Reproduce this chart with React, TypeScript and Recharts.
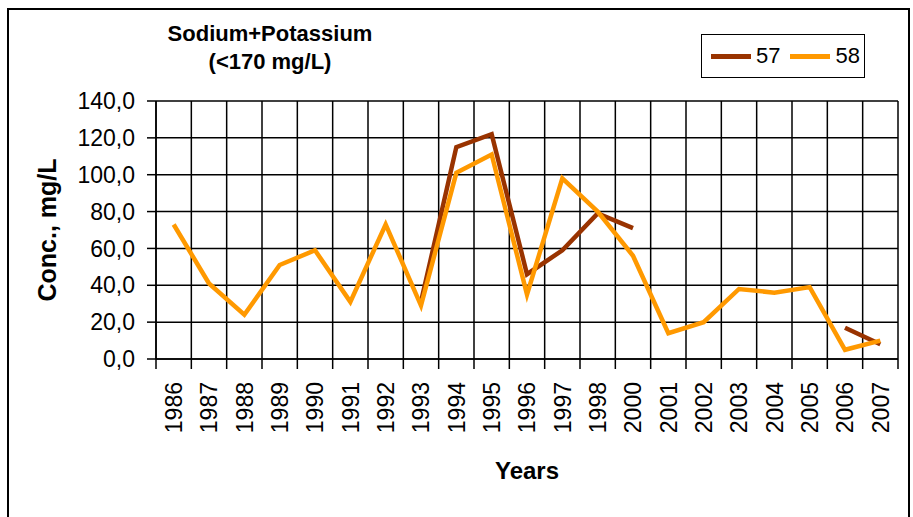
import { LineChart, Line, XAxis, YAxis, CartesianGrid, Legend } from 'recharts';

const FONT = '"Liberation Sans", Arial, sans-serif';

// 1999 is missing in the source sheet
const years = [
  '1986', '1987', '1988', '1989', '1990', '1991', '1992', '1993', '1994', '1995', '1996',
  '1997', '1998', '2000', '2001', '2002', '2003', '2004', '2005', '2006', '2007',
];
const well57 = [
  null, null, null, null, null, null, null, 31, 115, 122, 46,
  59, 79, 71, null, null, null, null, null, 17, 8,
];
const well58 = [
  73, 41, 24, 51, 59, 31, 73, 29, 101, 111, 35,
  98, 80, 56, 14, 20, 38, 36, 39, 5, 10,
];
const yTicks = [0, 20, 40, 60, 80, 100, 120, 140];

const data = years.map((year, i) => ({
  x: i + 0.5,
  year,
  w57: well57[i],
  w58: well58[i],
}));
const boundaries = years.map((_, i) => i).concat(years.length);
const centers = years.map((_, i) => i + 0.5);

const YearTick = (props: any) => {
  const { x, y, payload } = props;
  const label = years[Math.floor(payload.value)];
  return (
    <text
      x={x}
      y={y}
      transform={`rotate(-90, ${x}, ${y})`}
      textAnchor="end"
      dy="0.36em"
      fontSize={23}
      fontFamily={FONT}
      fill="#000"
    >
      {label}
    </text>
  );
};

const LegendBox = (props: any) => {
  const items = props.payload || [];
  return (
    <div
      style={{
        boxSizing: 'border-box',
        width: 164,
        height: 44,
        border: '1.5px solid #000',
        display: 'flex',
        alignItems: 'center',
        paddingLeft: 9,
        fontFamily: FONT,
        fontSize: 22,
        background: '#fff',
      }}
    >
      {items.map((it: any) => (
        <div key={it.value} style={{ display: 'flex', alignItems: 'center', marginRight: 10 }}>
          <span style={{ display: 'inline-block', width: 40, height: 5, background: it.color, marginRight: 5 }} />
          <span>{it.value}</span>
        </div>
      ))}
    </div>
  );
};

export default function App() {
  return (
    <div
      style={{
        position: 'absolute',
        left: 0,
        top: 0,
        width: 913,
        height: 517,
        background: '#fff',
        overflow: 'hidden',
      }}
    >
      <div
        style={{
          position: 'absolute',
          left: 7,
          top: 8,
          width: 903,
          height: 530,
          border: '2px solid #000',
          boxSizing: 'border-box',
        }}
      />
      <div
        style={{
          position: 'absolute',
          left: 120,
          top: 20,
          width: 300,
          textAlign: 'center',
          fontFamily: FONT,
          fontWeight: 'bold',
          fontSize: 22,
          lineHeight: '28px',
        }}
      >
        <div>Sodium+Potassium</div>
        <div>(&lt;170 mg/L)</div>
      </div>
      <LineChart
        width={913}
        height={517}
        data={data}
        margin={{ top: 101, right: 15, left: 0, bottom: 0 }}
      >
        <CartesianGrid stroke="#000" strokeWidth={1.5} xAxisId={0} />
        <XAxis
          xAxisId={0}
          dataKey="x"
          type="number"
          domain={[0, years.length]}
          ticks={boundaries}
          tickFormatter={() => ''}
          tickSize={10}
          height={10}
          axisLine={{ stroke: '#000', strokeWidth: 1.5 }}
          tickLine={{ stroke: '#000', strokeWidth: 1.5 }}
          interval={0}
        />
        <XAxis
          xAxisId="lab"
          dataKey="x"
          type="number"
          domain={[0, years.length]}
          ticks={centers}
          tick={<YearTick />}
          tickSize={0}
          tickMargin={13}
          axisLine={false}
          tickLine={false}
          height={148}
          interval={0}
          label={{
            value: 'Years',
            position: 'insideBottom',
            offset: 38,
            style: { fontFamily: FONT, fontSize: 24, fontWeight: 'bold', fill: '#000' },
          }}
        />
        <YAxis
          domain={[0, 140]}
          ticks={yTicks}
          width={156}
          tickSize={9}
          tickMargin={12}
          tickFormatter={(v: number) => v.toFixed(1).replace('.', ',')}
          tick={{ fill: '#000', fontSize: 23, fontFamily: FONT }}
          axisLine={{ stroke: '#000', strokeWidth: 1.5 }}
          tickLine={{ stroke: '#000', strokeWidth: 1.5 }}
          interval={0}
          label={{
            value: 'Conc., mg/L',
            angle: -90,
            position: 'insideLeft',
            offset: 47,
            style: { textAnchor: 'middle', fontFamily: FONT, fontSize: 25, fontWeight: 'bold', fill: '#000' },
          }}
        />
        <Legend
          layout="vertical"
          align="center"
          verticalAlign="middle"
          content={<LegendBox />}
          wrapperStyle={{ position: 'absolute', left: 701, top: 34, width: 164, height: 44 }}
        />
        <Line
          xAxisId={0}
          dataKey="w57"
          name="57"
          stroke="#993300"
          strokeWidth={4.5}
          dot={false}
          isAnimationActive={false}
          connectNulls={false}
        />
        <Line
          xAxisId={0}
          dataKey="w58"
          name="58"
          stroke="#FF9900"
          strokeWidth={4.5}
          dot={false}
          isAnimationActive={false}
        />
      </LineChart>
    </div>
  );
}
